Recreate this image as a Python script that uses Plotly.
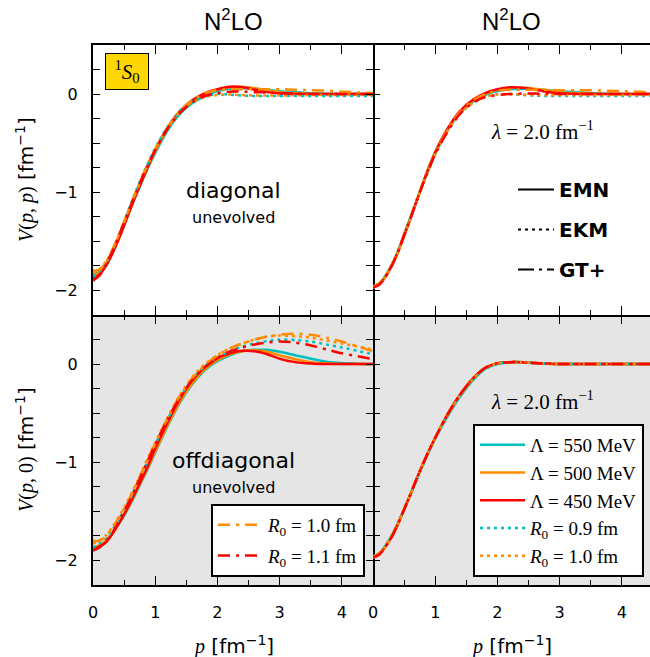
import plotly.graph_objects as go
from plotly.subplots import make_subplots

# ---------------- data ----------------
P = [0, 0.1, 0.2, 0.3, 0.4, 0.5, 0.6, 0.7, 0.8, 0.9, 1.0, 1.2, 1.4, 1.6, 1.8,
     2.0, 2.2, 2.4, 2.6, 2.8, 3.0, 3.25, 3.5, 3.75, 4.0, 4.25, 4.5]

# top-left: diagonal, unevolved
tl_emn550 = [-1.84, -1.81, -1.73, -1.62, -1.48, -1.33, -1.17, -1.02, -0.87, -0.73, -0.60, -0.37, -0.20, -0.09, -0.02,
             0.03, 0.055, 0.06, 0.055, 0.045, 0.03, 0.018, 0.008, 0.003, 0.0, 0.0, 0.0]
tl_emn500 = [-1.85, -1.82, -1.74, -1.63, -1.49, -1.33, -1.17, -1.01, -0.86, -0.72, -0.58, -0.35, -0.18, -0.07, 0.0,
             0.045, 0.07, 0.075, 0.06, 0.04, 0.02, 0.008, 0.003, 0.0, 0.0, 0.0, 0.0]
tl_emn450 = [-1.88, -1.84, -1.76, -1.64, -1.50, -1.34, -1.17, -1.01, -0.86, -0.71, -0.57, -0.34, -0.17, -0.06, 0.01,
             0.05, 0.075, 0.07, 0.045, 0.02, 0.007, 0.002, 0.0, 0.0, 0.0, 0.0, 0.0]
tl_ekm09 = [-1.86, -1.82, -1.73, -1.61, -1.46, -1.30, -1.13, -0.97, -0.82, -0.68, -0.55, -0.33, -0.17, -0.07, -0.02,
            0.0, -0.005, -0.015, -0.02, -0.02, -0.02, -0.02, -0.02, -0.02, -0.02, -0.02, -0.02]
tl_ekm10 = [-1.82, -1.79, -1.71, -1.60, -1.46, -1.30, -1.14, -0.98, -0.83, -0.69, -0.56, -0.34, -0.18, -0.08, -0.03,
            -0.01, -0.005, -0.01, -0.015, -0.015, -0.015, -0.012, -0.01, -0.01, -0.01, -0.01, -0.01]
tl_gt10 = [-1.80, -1.79, -1.72, -1.60, -1.45, -1.30, -1.14, -0.98, -0.83, -0.69, -0.56, -0.34, -0.17, -0.06, 0.01,
           0.04, 0.05, 0.05, 0.05, 0.05, 0.05, 0.045, 0.04, 0.035, 0.025, 0.018, 0.012]
tl_gt11 = [-1.90, -1.85, -1.75, -1.62, -1.47, -1.31, -1.15, -0.99, -0.84, -0.70, -0.57, -0.35, -0.19, -0.08, -0.02,
           0.01, 0.025, 0.025, 0.02, 0.015, 0.01, 0.005, 0.002, 0.0, 0.0, 0.0, 0.0]

# top-right: diagonal, SRG evolved (lambda = 2.0 fm^-1)
tr_emn550 = [-1.96, -1.93, -1.85, -1.74, -1.60, -1.43, -1.26, -1.09, -0.92, -0.76, -0.61, -0.37, -0.19, -0.08, -0.01,
             0.03, 0.05, 0.055, 0.05, 0.04, 0.03, 0.018, 0.01, 0.004, 0.0, 0.0, 0.0]
tr_emn500 = [-1.97, -1.94, -1.86, -1.75, -1.61, -1.44, -1.27, -1.09, -0.92, -0.75, -0.60, -0.36, -0.18, -0.07, 0.0,
             0.045, 0.065, 0.065, 0.055, 0.04, 0.02, 0.01, 0.004, 0.0, 0.0, 0.0, 0.0]
tr_emn450 = [-1.97, -1.94, -1.86, -1.75, -1.61, -1.44, -1.27, -1.09, -0.91, -0.74, -0.59, -0.35, -0.17, -0.06, 0.01,
             0.05, 0.07, 0.065, 0.045, 0.022, 0.008, 0.002, 0.0, 0.0, 0.0, 0.0, 0.0]
tr_ekm09 = [-1.97, -1.94, -1.86, -1.75, -1.60, -1.43, -1.26, -1.08, -0.91, -0.75, -0.60, -0.37, -0.20, -0.09, -0.03,
            0.0, 0.0, -0.01, -0.015, -0.02, -0.02, -0.02, -0.02, -0.02, -0.02, -0.02, -0.02]
tr_ekm10 = [-1.97, -1.94, -1.86, -1.75, -1.61, -1.44, -1.27, -1.09, -0.92, -0.76, -0.61, -0.37, -0.20, -0.09, -0.03,
            -0.005, 0.0, -0.005, -0.01, -0.01, -0.01, -0.01, -0.01, -0.01, -0.01, -0.01, -0.01]
tr_gt10 = [-1.96, -1.93, -1.85, -1.74, -1.60, -1.43, -1.26, -1.08, -0.91, -0.75, -0.60, -0.36, -0.18, -0.07, 0.0,
           0.035, 0.045, 0.045, 0.045, 0.045, 0.04, 0.04, 0.04, 0.035, 0.03, 0.025, 0.02]
tr_gt11 = [-1.97, -1.94, -1.86, -1.75, -1.61, -1.44, -1.27, -1.09, -0.92, -0.76, -0.61, -0.38, -0.20, -0.09, -0.03,
           -0.01, 0.0, 0.005, 0.005, 0.003, 0.0, 0.0, 0.0, 0.0, 0.0, 0.0, 0.0]

# bottom-left: off-diagonal, unevolved
bl_emn550 = [-1.87, -1.85, -1.80, -1.73, -1.64, -1.54, -1.43, -1.30, -1.17, -1.04, -0.90, -0.63, -0.39, -0.20, -0.06,
             0.03, 0.09, 0.13, 0.145, 0.145, 0.125, 0.09, 0.055, 0.025, 0.01, 0.003, 0.0]
bl_emn500 = [-1.87, -1.85, -1.80, -1.73, -1.64, -1.53, -1.42, -1.29, -1.16, -1.03, -0.89, -0.62, -0.38, -0.19, -0.05,
             0.04, 0.10, 0.13, 0.14, 0.125, 0.09, 0.05, 0.02, 0.007, 0.002, 0.0, 0.0]
bl_emn450 = [-1.89, -1.86, -1.82, -1.74, -1.64, -1.53, -1.41, -1.28, -1.15, -1.01, -0.86, -0.59, -0.35, -0.16, -0.03,
             0.06, 0.11, 0.135, 0.13, 0.10, 0.055, 0.02, 0.005, 0.0, 0.0, 0.0, 0.0]
bl_ekm09 = [-1.87, -1.83, -1.78, -1.70, -1.60, -1.49, -1.37, -1.23, -1.10, -0.96, -0.82, -0.56, -0.33, -0.15, -0.02,
            0.07, 0.13, 0.18, 0.21, 0.235, 0.25, 0.245, 0.23, 0.20, 0.17, 0.135, 0.10]
bl_ekm10 = [-1.83, -1.80, -1.75, -1.67, -1.57, -1.46, -1.34, -1.21, -1.07, -0.93, -0.80, -0.54, -0.31, -0.13, 0.0,
            0.09, 0.16, 0.21, 0.25, 0.28, 0.29, 0.285, 0.27, 0.24, 0.21, 0.18, 0.15]
bl_gt10 = [-1.80, -1.80, -1.76, -1.68, -1.58, -1.47, -1.35, -1.22, -1.08, -0.94, -0.81, -0.55, -0.32, -0.14, -0.01,
           0.09, 0.16, 0.21, 0.25, 0.28, 0.30, 0.31, 0.30, 0.27, 0.23, 0.18, 0.13]
bl_gt11 = [-1.90, -1.87, -1.81, -1.73, -1.62, -1.50, -1.38, -1.24, -1.10, -0.96, -0.82, -0.56, -0.34, -0.16, -0.03,
           0.06, 0.13, 0.17, 0.20, 0.22, 0.23, 0.22, 0.19, 0.15, 0.11, 0.08, 0.05]

# bottom-right: off-diagonal, SRG evolved
br_emn550 = [-1.96, -1.93, -1.85, -1.75, -1.62, -1.48, -1.33, -1.18, -1.03, -0.89, -0.76, -0.53, -0.33, -0.17, -0.05,
             0.0, 0.02, 0.02, 0.012, 0.005, 0.001, 0.0, 0.0, 0.0, 0.0, 0.0, 0.0]
br_emn500 = [-1.97, -1.94, -1.86, -1.76, -1.63, -1.48, -1.33, -1.17, -1.02, -0.88, -0.75, -0.51, -0.31, -0.15, -0.04,
             0.01, 0.02, 0.018, 0.01, 0.004, 0.0, 0.0, 0.0, 0.0, 0.0, 0.0, 0.0]
br_emn450 = [-1.97, -1.94, -1.86, -1.76, -1.63, -1.48, -1.33, -1.17, -1.02, -0.88, -0.75, -0.51, -0.31, -0.15, -0.04,
             0.01, 0.02, 0.02, 0.01, 0.005, 0.0, 0.0, 0.0, 0.0, 0.0, 0.0, 0.0]
br_ekm09 = [-1.96, -1.93, -1.85, -1.75, -1.62, -1.48, -1.33, -1.18, -1.03, -0.89, -0.76, -0.52, -0.32, -0.16, -0.05,
            0.005, 0.02, 0.02, 0.01, 0.004, 0.0, 0.0, 0.0, 0.0, 0.0, 0.0, 0.0]
br_ekm10 = [-1.97, -1.94, -1.86, -1.76, -1.63, -1.48, -1.33, -1.17, -1.02, -0.88, -0.75, -0.52, -0.32, -0.16, -0.04,
            0.01, 0.02, 0.02, 0.01, 0.004, 0.0, 0.0, 0.0, 0.0, 0.0, 0.0, 0.0]
br_gt10 = [-1.96, -1.93, -1.85, -1.75, -1.62, -1.47, -1.32, -1.17, -1.02, -0.88, -0.75, -0.51, -0.31, -0.15, -0.04,
           0.01, 0.02, 0.02, 0.012, 0.005, 0.001, 0.0, 0.0, 0.0, 0.0, 0.0, 0.0]
br_gt11 = [-1.97, -1.94, -1.86, -1.76, -1.63, -1.48, -1.33, -1.17, -1.02, -0.88, -0.75, -0.51, -0.31, -0.15, -0.04,
           0.01, 0.02, 0.02, 0.01, 0.004, 0.0, 0.0, 0.0, 0.0, 0.0, 0.0, 0.0]

SERIES_KEYS = ["emn550", "emn500", "emn450", "ekm09", "ekm10", "gt10", "gt11"]
SERIES_NAMES = {
    "emn550": "Λ = 550 MeV",
    "emn500": "Λ = 500 MeV",
    "emn450": "Λ = 450 MeV",
    "ekm09": "<i>R</i><sub>0</sub> = 0.9 fm",
    "ekm10": "<i>R</i><sub>0</sub> = 1.0 fm",
    "gt10": "<i>R</i><sub>0</sub> = 1.0 fm",
    "gt11": "<i>R</i><sub>0</sub> = 1.1 fm",
}
PANELS = {
    (1, 1): dict(emn550=tl_emn550, emn500=tl_emn500, emn450=tl_emn450, ekm09=tl_ekm09, ekm10=tl_ekm10, gt10=tl_gt10, gt11=tl_gt11),
    (1, 2): dict(emn550=tr_emn550, emn500=tr_emn500, emn450=tr_emn450, ekm09=tr_ekm09, ekm10=tr_ekm10, gt10=tr_gt10, gt11=tr_gt11),
    (2, 1): dict(emn550=bl_emn550, emn500=bl_emn500, emn450=bl_emn450, ekm09=bl_ekm09, ekm10=bl_ekm10, gt10=bl_gt10, gt11=bl_gt11),
    (2, 2): dict(emn550=br_emn550, emn500=br_emn500, emn450=br_emn450, ekm09=br_ekm09, ekm10=br_ekm10, gt10=br_gt10, gt11=br_gt11),
}
MODEL_NAMES = ["<b>EMN</b>", "<b>EKM</b>", "<b>GT+</b>"]

X_MAJOR = [0, 1, 2, 3, 4]
X_MAJOR_TEXT = ["0", "1", "2", "3", "4"]
X_MINOR = [0.5, 1.5, 2.5, 3.5, 4.5]
Y_MAJOR = [-2, -1, 0]
Y_MAJOR_TEXT = ["−2", "−1", "0"]
Y_MINOR = [-2.25, -1.75, -1.5, -1.25, -0.75, -0.5, -0.25, 0.25, 0.5]

# ---------------- styles ----------------
CYAN = "#00BFBF"
ORANGE = "#FF8C00"
RED = "#FF0000"
GREY = "#E5E5E5"
DOT = "3px,4px"
DASHDOT = "12px,6px,3px,6px"
STYLE = {
    "emn550": (CYAN, "solid"),
    "emn500": (ORANGE, "solid"),
    "emn450": (RED, "solid"),
    "ekm09": (CYAN, DOT),
    "ekm10": (ORANGE, DOT),
    "gt10": (ORANGE, DASHDOT),
    "gt11": (RED, DASHDOT),
}
SERIF = "Liberation Serif"
SANS = "DejaVu Sans"

W, H = 650, 657
ML, MR, MT, MB = 93, 0, 45, 72
PW, PH = W - ML - MR, H - MT - MB
XSPLIT = 280 / PW
PX_PER_P = 280 / 4.5

fig = make_subplots(rows=2, cols=2, horizontal_spacing=0, vertical_spacing=0)

for (r, c), data in PANELS.items():
    for k in SERIES_KEYS:
        color, dash = STYLE[k]
        show = False
        leg = "legend"
        if (r, c) == (2, 2) and k.startswith(("emn", "ekm")):
            show = True
        if (r, c) == (2, 1) and k.startswith("gt"):
            show = True
            leg = "legend2"
        fig.add_trace(
            go.Scatter(x=P, y=data[k], mode="lines", name=SERIES_NAMES[k],
                       line=dict(color=color, width=2.5, dash=dash, shape="spline", smoothing=0.7),
                       showlegend=show, legend=leg, legendgroup=f"{r}{c}{k}",
                       hoverinfo="skip"),
            row=r, col=c)

# model legend (black keys, no data)
for name, dash in zip(MODEL_NAMES, ["solid", DOT, "16px,5px,3px,5px"]):
    fig.add_trace(go.Scatter(x=[None], y=[None], mode="lines", name=name,
                             line=dict(color="black", width=2, dash=dash),
                             showlegend=True, legend="legend3", legendgroup=name),
                  row=1, col=2)

tickfont = dict(family=SANS, size=16, color="black")
common = dict(linewidth=2, linecolor="black", ticks="inside", tickwidth=1.3, tickcolor="black",
              showgrid=False, zeroline=False, tickfont=tickfont)

for r in (1, 2):
    for c in (1, 2):
        xr = [0, 4.5] if c == 1 else [0, (PW - 280) / PX_PER_P]
        fig.update_xaxes(row=r, col=c, range=xr, tickvals=X_MAJOR, ticktext=X_MAJOR_TEXT, ticklen=9,
                         minor=dict(tickvals=X_MINOR, ticks="inside", ticklen=5, tickwidth=1.3, tickcolor="black", showgrid=False),
                         showticklabels=(r == 2), showline=True,
                         mirror=("ticks" if r == 1 else False), ticklabelstandoff=12,
                         domain=[0, XSPLIT] if c == 1 else [XSPLIT, 1], **common)
        fig.update_yaxes(row=r, col=c, range=[-2.25, 0.5], tickvals=Y_MAJOR, ticktext=Y_MAJOR_TEXT, ticklen=7,
                         minor=dict(tickvals=Y_MINOR, ticks="inside", ticklen=7, tickwidth=1.3, tickcolor="black", showgrid=False),
                         showticklabels=(c == 1), showline=(c == 1),
                         mirror=("ticks" if c == 1 else False),
                         ticklabelstandoff=10,
                         domain=[0.5, 1] if r == 1 else [0, 0.5], **common)

# tick-only axes on the top edge of the lower panels (pointing down into them)
for ov, base, yb, xr in (("xaxis5", "x3", "y3", [0, 4.5]), ("xaxis6", "x4", "y4", [0, (PW - 280) / PX_PER_P])):
    fig.update_layout({ov: dict(overlaying=base, anchor=yb, side="top", range=xr, showline=False,
                                tickvals=X_MAJOR, ticklen=9, showticklabels=False,
                                minor=dict(tickvals=X_MINOR, ticks="inside", ticklen=5, tickwidth=1.3, tickcolor="black"),
                                ticks="inside", tickwidth=1.3, tickcolor="black", showgrid=False, zeroline=False)})
    fig.add_trace(go.Scatter(x=[None], y=[None], mode="lines", showlegend=False, hoverinfo="skip",
                             xaxis=ov.replace("axis", ""), yaxis=yb))

# grey background for the off-diagonal panels
for ax, yref in (("x3", "y3"), ("x4", "y4")):
    fig.add_shape(type="rect", xref=f"{ax} domain", yref=f"{yref} domain", x0=0, x1=1, y0=0, y1=1,
                  fillcolor=GREY, line=dict(width=0), layer="below")


def px_x(x):
    return (x - ML) / PW


def px_y(y):
    return (H - MB - y) / PH


ann = []
for xc in (233, 511.5):
    ann.append(dict(x=px_x(xc), y=px_y(20), text="N<sup>2</sup>LO",
                    font=dict(family="Liberation Sans", size=24, color="black")))
    ann.append(dict(x=px_x(xc), y=px_y(645),
                    text=f'<span style="font-family:{SERIF}"><i>p</i></span> [fm<sup>−1</sup>]',
                    font=dict(family=SANS, size=20, color="black")))
ann += [
    dict(x=px_x(233), y=px_y(190.7), text="diagonal", font=dict(family=SANS, size=22, color="black")),
    dict(x=px_x(233), y=px_y(217.7), text="unevolved", font=dict(family=SANS, size=16, color="black")),
    dict(x=px_x(233), y=px_y(460.7), text="offdiagonal", font=dict(family=SANS, size=22, color="black")),
    dict(x=px_x(233), y=px_y(487.7), text="unevolved", font=dict(family=SANS, size=16, color="black")),
    dict(x=px_x(542.5), y=px_y(130), text="<i>λ</i> = 2.0 fm<sup>−1</sup>", font=dict(family=SERIF, size=21, color="black")),
    dict(x=px_x(542.5), y=px_y(400), text="<i>λ</i> = 2.0 fm<sup>−1</sup>", font=dict(family=SERIF, size=21, color="black")),
    dict(x=px_x(25), y=px_y(180), textangle=-90,
         text=f'<span style="font-family:{SERIF}"><i>V</i>(<i>p</i>, <i>p</i>)</span> [fm<sup>−1</sup>]',
         font=dict(family=SANS, size=20, color="black")),
    dict(x=px_x(25), y=px_y(450), textangle=-90,
         text=f'<span style="font-family:{SERIF}"><i>V</i>(<i>p</i>, 0)</span> [fm<sup>−1</sup>]',
         font=dict(family=SANS, size=20, color="black")),
    dict(x=px_x(105), y=px_y(53), xanchor="left", yanchor="top", width=40, height=33,
         text="<sup>1</sup><i>S</i><sub>0</sub>", bgcolor="#FFD700", bordercolor="black", borderwidth=1,
         borderpad=1, font=dict(family=SERIF, size=21, color="black")),
]
for a in ann:
    a.setdefault("xref", "paper")
    a.setdefault("yref", "paper")
    a.setdefault("showarrow", False)
    a.setdefault("xanchor", "center")
    a.setdefault("yanchor", "middle")
fig.update_layout(annotations=ann)

fig.update_layout(
    width=W, height=H, margin=dict(l=ML, r=MR, t=MT, b=MB),
    paper_bgcolor="white", plot_bgcolor="white",
    legend=dict(x=px_x(644), y=px_y(577), xanchor="right", yanchor="bottom",
                bgcolor="white", bordercolor="black", borderwidth=2,
                font=dict(family=SERIF, size=19, color="black"),
                traceorder="grouped", tracegroupgap=0, itemwidth=45),
    legend2=dict(x=px_x(365), y=px_y(577), xanchor="right", yanchor="bottom",
                 bgcolor="white", bordercolor="black", borderwidth=2,
                 font=dict(family=SERIF, size=19, color="black"),
                 traceorder="grouped", tracegroupgap=3, itemwidth=45),
    legend3=dict(x=px_x(513), y=px_y(170), xanchor="left", yanchor="top",
                 bgcolor="rgba(0,0,0,0)", borderwidth=0,
                 font=dict(family=SANS, size=20, color="black"),
                 traceorder="grouped", tracegroupgap=11, itemwidth=36),
)

fig.write_html("out.html")
